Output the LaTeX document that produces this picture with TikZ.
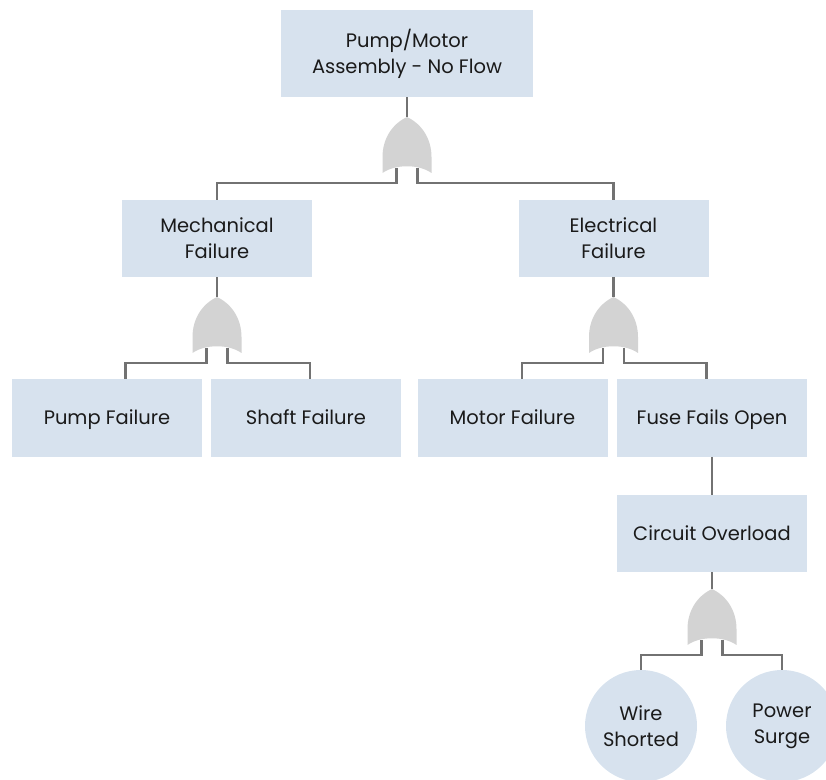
\documentclass[tikz,border=0pt]{standalone}
\usepackage{fontspec}
\setmainfont{Poppins}
\definecolor{boxblue}{HTML}{D7E2EE}
\definecolor{gatefill}{HTML}{D3D3D3}
\definecolor{wiregray}{HTML}{727272}
\definecolor{inkblack}{HTML}{1A1A1A}
\begin{document}
\begin{tikzpicture}[x=0.75pt,y=-0.75pt,
  font=\fontsize{14.6}{19.5}\selectfont,text=inkblack,
  event/.style={fill=boxblue,minimum width=142.5pt,minimum height=58pt,
    inner sep=0pt,align=center},
  oneline/.style={text height=13.5pt,text depth=3pt},
  basic/.style={circle,fill=boxblue,minimum size=84pt,inner sep=0pt,align=center},
  wire/.style={draw=wiregray,line width=1.9pt},
  orgate/.pic={
    \fill[gatefill] (0,0) .. controls (15,7) and (24.5,22) .. (24.5,40)
      -- (24.5,56) .. controls (12,47) and (-12,47) .. (-24.5,56)
      -- (-24.5,40) .. controls (-24.5,22) and (-15,7) .. (0,0);
    \coordinate (-top) at (0,0);
    \coordinate (-left) at (-10.5,51);
    \coordinate (-right) at (10.5,51);
  }]
\clip (0,0) rectangle (826,780);
% events
\node[event,minimum width=189pt,minimum height=65pt] (Top) at (407,53.5)
  {Pump/Motor\\Assembly - No Flow};
\node[event] (Mech) at (217,238.5) {Mechanical\\Failure};
\node[event] (Elec) at (613.5,238.5) {Electrical\\Failure};
\node[event,oneline] (Pump) at (107,418) {Pump Failure};
\node[event,oneline] (Shaft) at (306,418) {Shaft Failure};
\node[event,oneline] (Motor) at (512.5,418) {Motor Failure};
\node[event,oneline] (Fuse) at (712,418) {Fuse Fails Open};
\node[event,oneline] (Circuit) at (712,533.5) {Circuit Overload};
\node[basic] (Wire) at (641,726) {Wire\\Shorted};
\node[basic] (Surge) at (782,726) {Power\\Surge};
% gates
\pic (GateTop) at (407,117) {orgate};
\pic (GateMech) at (217,297) {orgate};
\pic (GateElec) at (613.5,297) {orgate};
\pic (GateCirc) at (712,589) {orgate};
% connectors
\draw[wire] (Top.south) -- (GateTop-top);
\draw[wire] (GateTop-left) -- ++(0,15) -| (Mech.north);
\draw[wire] (GateTop-right) -- ++(0,15) -| (Elec.north);
\draw[wire] (Mech.south) -- (GateMech-top);
\draw[wire] (GateMech-left) -- ++(0,15) -| ([xshift=14pt]Pump.north);
\draw[wire] (GateMech-right) -- ++(0,15) -| ([xshift=3pt]Shaft.north);
\draw[wire] (Elec.south) -- (GateElec-top);
\draw[wire] (GateElec-left) -- ++(0,15) -| ([xshift=7pt]Motor.north);
\draw[wire] (GateElec-right) -- ++(0,15) -| ([xshift=-4pt]Fuse.north);
\draw[wire] (Fuse.south) -- (Circuit.north);
\draw[wire] (Circuit.south) -- (GateCirc-top);
\draw[wire] (GateCirc-left) -- ++(0,15) -| (Wire.north);
\draw[wire] (GateCirc-right) -- ++(0,15) -| (Surge.north);
\end{tikzpicture}
\end{document}
